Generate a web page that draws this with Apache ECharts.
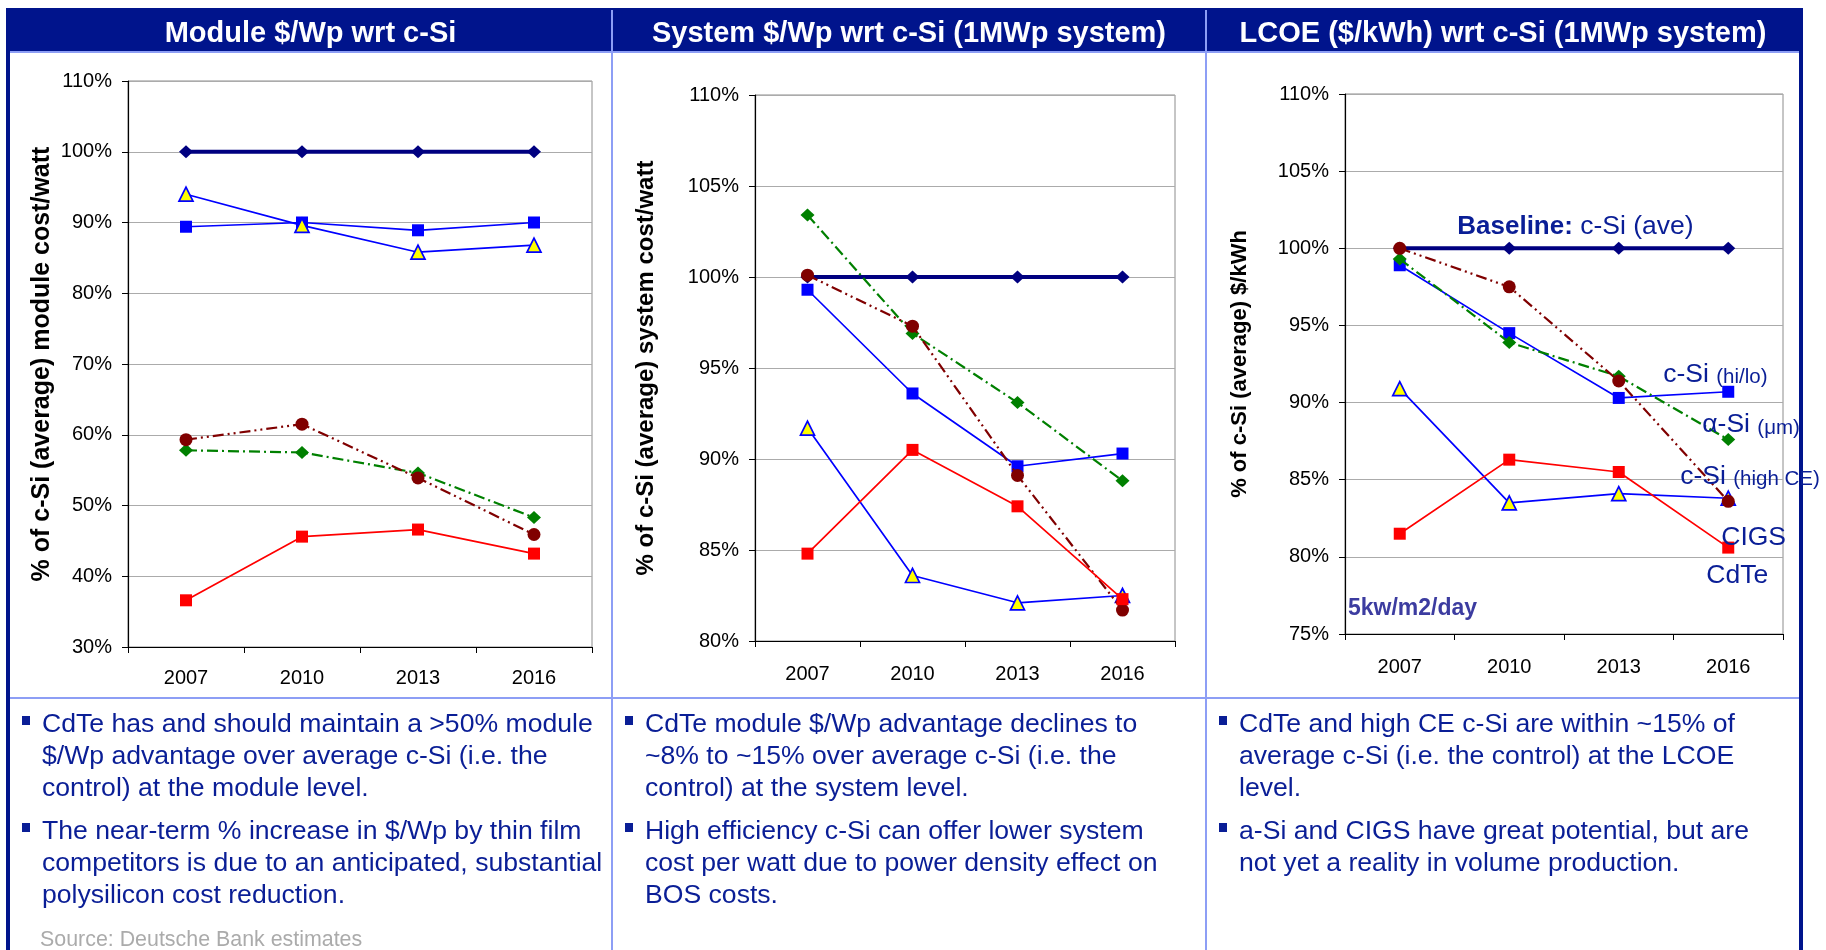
<!DOCTYPE html>
<html>
<head>
<meta charset="utf-8">
<script src="https://cdn.jsdelivr.net/npm/echarts@6/dist/echarts.min.js"></script>
<style>
  html, body { margin: 0; padding: 0; background: #ffffff; }
  #chart { width: 1826px; height: 950px; }
</style>
</head>
<body>
<div id="chart"></div>
<script>
// ---- data -------------------------------------------------------------
const years = ['2007', '2010', '2013', '2016'];

// Module $/Wp relative to average c-Si (%)
const moduleBaseline = [100, 100, 100, 100];
const moduleHiLo     = [89.4, 90.0, 88.9, 90.0];
const moduleASi      = [57.8, 57.5, 54.6, 48.3];
const moduleCIGS     = [94.0, 89.6, 85.8, 86.8];
const moduleHighCE   = [59.3, 61.5, 53.9, 45.9];
const moduleCdTe     = [36.6, 45.6, 46.6, 43.2];

// System $/Wp relative to average c-Si (%), 1MWp system
const systemBaseline = [100, 100, 100, 100];
const systemHiLo     = [99.3, 93.6, 89.6, 90.3];
const systemASi      = [103.4, 96.9, 93.1, 88.8];
const systemCIGS     = [91.7, 83.6, 82.1, 82.5];
const systemHighCE   = [100.1, 97.3, 89.1, 81.7];
const systemCdTe     = [84.8, 90.5, 87.4, 82.3];

// LCOE ($/kWh) relative to average c-Si (%), 1MWp system
const lcoeBaseline = [100, 100, 100, 100];
const lcoeHiLo     = [98.9, 94.5, 90.3, 90.7];
const lcoeASi      = [99.3, 93.9, 91.7, 87.6];
const lcoeCIGS     = [90.9, 83.5, 84.1, 83.8];
const lcoeHighCE   = [100.0, 97.5, 91.4, 83.6];
const lcoeCdTe     = [81.5, 86.3, 85.5, 80.6];

const panelTitles = [
  'Module $/Wp wrt c-Si',
  'System $/Wp wrt c-Si (1MWp system)',
  'LCOE ($/kWh) wrt c-Si (1MWp system)'
];
const axisTitles = [
  '% of c-Si (average) module cost/watt',
  '% of c-Si (average) system cost/watt',
  '% of c-Si (average) $/kWh'
];

const bulletsModule = [
  ['CdTe has and should maintain a >50% module', '$/Wp advantage over average c-Si (i.e. the', 'control) at the module level.'],
  ['The near-term % increase in $/Wp by thin film', 'competitors is due to an anticipated, substantial', 'polysilicon cost reduction.']
];
const bulletsSystem = [
  ['CdTe module $/Wp advantage declines to', '~8% to ~15% over average c-Si (i.e. the', 'control) at the system level.'],
  ['High efficiency c-Si can offer lower system', 'cost per watt due to power density effect on', 'BOS costs.']
];
const bulletsLcoe = [
  ['CdTe and high CE c-Si are within ~15% of', 'average c-Si (i.e. the control) at the LCOE', 'level.'],
  ['a-Si and CIGS have great potential, but are', 'not yet a reality in volume production.']
];
const sourceNote = 'Source: Deutsche Bank estimates';
const irradianceNote = '5kw/m2/day';

// ---- styling ------------------------------------------------------------
const FONT = "'Liberation Sans', Arial, Helvetica, sans-serif";
const NAVY = '#00148c';
const PALE = '#8d9ef5';
const TEXT_BLUE = '#0a1e96';

// one entry per technology, drawn in this order (later ones on top)
const techStyles = [
  { key: 'base',   name: 'c-Si (ave)',     color: '#000080', width: 4,   type: 'solid',             symbol: 'diamond',  size: [14, 13] },
  { key: 'hilo',   name: 'c-Si (hi/lo)',   color: '#0000ff', width: 1.7, type: 'solid',             symbol: 'rect',     size: 12 },
  { key: 'asi',    name: 'α-Si (μm)',      color: '#008000', width: 2.2, type: [11, 4, 2, 4],       symbol: 'diamond',  size: [14, 13] },
  { key: 'cigs',   name: 'CIGS',           color: '#0000ff', width: 1.7, type: 'solid',             symbol: 'triangle', size: 14, fill: '#ffff00', border: 1.7 },
  { key: 'highce', name: 'c-Si (high CE)', color: '#800000', width: 2.2, type: [11, 4, 2, 4, 2, 4], symbol: 'circle',   size: 13 },
  { key: 'cdte',   name: 'CdTe',           color: '#ff0000', width: 1.7, type: 'solid',             symbol: 'rect',     size: 12 }
];

const panelData = [
  { base: moduleBaseline, hilo: moduleHiLo, asi: moduleASi, cigs: moduleCIGS, highce: moduleHighCE, cdte: moduleCdTe },
  { base: systemBaseline, hilo: systemHiLo, asi: systemASi, cigs: systemCIGS, highce: systemHighCE, cdte: systemCdTe },
  { base: lcoeBaseline,   hilo: lcoeHiLo,   asi: lcoeASi,   cigs: lcoeCIGS,   highce: lcoeHighCE,   cdte: lcoeCdTe }
];

const grids = [
  { left: 128,  top: 81, width: 464, height: 566 },
  { left: 755,  top: 95, width: 420, height: 546 },
  { left: 1345, top: 94, width: 438, height: 540 }
];
const yRanges = [
  { min: 30, max: 110, interval: 10, nameGap: 73, nameSize: 25, labelMargin: 21 },
  { min: 80, max: 110, interval: 5,  nameGap: 97, nameSize: 24, labelMargin: 23 },
  { min: 75, max: 110, interval: 5,  nameGap: 94, nameSize: 22, labelMargin: 23 }
];

const xAxes = grids.map((g, i) => ({
  type: 'category',
  gridIndex: i,
  data: years,
  boundaryGap: true,
  axisLine: { show: true, lineStyle: { color: '#000', width: 1.2 } },
  axisTick: { show: true, length: 6, lineStyle: { color: '#000', width: 1 } },
  axisLabel: { fontFamily: FONT, fontSize: 20, color: '#000', margin: yRanges[i].labelMargin },
  splitLine: { show: false }
}));

const yAxes = grids.map((g, i) => ({
  type: 'value',
  gridIndex: i,
  min: yRanges[i].min,
  max: yRanges[i].max,
  interval: yRanges[i].interval,
  name: axisTitles[i],
  nameLocation: 'middle',
  nameGap: yRanges[i].nameGap,
  nameTextStyle: { fontFamily: FONT, fontSize: yRanges[i].nameSize, fontWeight: 'bold', color: '#000' },
  axisLine: { show: true, lineStyle: { color: '#000', width: 1.2 } },
  axisTick: { show: true, length: 6, lineStyle: { color: '#000', width: 1 } },
  axisLabel: { fontFamily: FONT, fontSize: 20, color: '#000', margin: 16, formatter: '{value}%' },
  splitLine: { show: true, lineStyle: { color: '#ababab', width: 1 } }
}));

const series = [];
panelData.forEach((pd, i) => {
  techStyles.forEach((st, k) => {
    series.push({
      type: 'line',
      name: st.name,
      id: 'p' + i + '-' + st.key,
      xAxisIndex: i,
      yAxisIndex: i,
      data: pd[st.key],
      z: 2 + k,
      symbol: st.symbol,
      symbolSize: st.size,
      showSymbol: true,
      lineStyle: { color: st.color, width: st.width, type: st.type },
      itemStyle: st.fill
        ? { color: st.fill, borderColor: st.color, borderWidth: st.border }
        : { color: st.color, borderWidth: 0 },
      emphasis: { disabled: true },
      animation: false
    });
  });
});

const chart = echarts.init(document.getElementById('chart'), null, { renderer: 'canvas' });
chart.setOption({
  animation: false,
  grid: grids.map(g => Object.assign({ show: true, borderColor: '#8c8c8c', borderWidth: 1, backgroundColor: 'transparent' }, g)),
  xAxis: xAxes,
  yAxis: yAxes,
  series: series
});

// ---- frame, headers, notes and commentary ------------------------------
const panelBounds = [[10, 611], [613, 1205], [1207, 1799]];
const graphics = [];

// header bar and frame
graphics.push({ type: 'rect', shape: { x: 6, y: 8, width: 1797, height: 43 }, style: { fill: NAVY }, z: 0 });
graphics.push({ type: 'rect', shape: { x: 6, y: 8, width: 4, height: 942 }, style: { fill: NAVY }, z: 0 });
graphics.push({ type: 'rect', shape: { x: 1799, y: 8, width: 4, height: 942 }, style: { fill: NAVY }, z: 0 });
graphics.push({ type: 'rect', shape: { x: 10, y: 51, width: 1789, height: 2 }, style: { fill: PALE }, z: 1 });
graphics.push({ type: 'rect', shape: { x: 10, y: 697, width: 1789, height: 2 }, style: { fill: PALE }, z: 1 });
graphics.push({ type: 'rect', shape: { x: 611, y: 10, width: 2, height: 940 }, style: { fill: PALE }, z: 1 });
graphics.push({ type: 'rect', shape: { x: 1205, y: 10, width: 2, height: 940 }, style: { fill: PALE }, z: 1 });

panelTitles.forEach((t, i) => {
  const cx = (panelBounds[i][0] + panelBounds[i][1]) / 2;
  graphics.push({
    type: 'text', x: cx, y: 34, z: 2,
    style: { text: t, fill: '#ffffff', font: 'bold 29px ' + FONT, align: 'center', verticalAlign: 'middle' }
  });
});

// bullet commentary
const bulletSets = [bulletsModule, bulletsSystem, bulletsLcoe];
const textLeft = [42, 645, 1239];
const lineCentres = [[725, 756.5, 789], [832, 863.5, 896]];
bulletSets.forEach((set, i) => {
  set.forEach((lines, b) => {
    graphics.push({
      type: 'rect', z: 2,
      shape: { x: textLeft[i] - 20, y: lineCentres[b][0] - 9, width: 8, height: 9 },
      style: { fill: TEXT_BLUE }
    });
    lines.forEach((ln, l) => {
      graphics.push({
        type: 'text', x: textLeft[i], y: lineCentres[b][l], z: 2,
        style: { text: ln, fill: TEXT_BLUE, font: '26.6px ' + FONT, align: 'left', verticalAlign: 'middle' }
      });
    });
  });
});
graphics.push({
  type: 'text', x: 40, y: 940.5, z: 2,
  style: { text: sourceNote, fill: '#ababab', font: '21.4px ' + FONT, align: 'left', verticalAlign: 'middle' }
});

// series names written beside the LCOE lines, anchored on the data points
const px = (catIdx, yv) => chart.convertToPixel({ gridIndex: 2 }, [years[catIdx], yv]);
const lastIdx = years.length - 1;
const tag = (pt, dx, dy, rich, text) => ({
  type: 'text', x: pt[0] + dx, y: pt[1] + dy, z: 10,
  style: { text: text, rich: rich, fill: TEXT_BLUE, font: '26px ' + FONT, align: 'left', verticalAlign: 'middle' }
});
const richParen = {
  m: { fontFamily: FONT, fontSize: 26.5, fill: TEXT_BLUE, verticalAlign: 'bottom', lineHeight: 30 },
  s: { fontFamily: FONT, fontSize: 20.5, fill: TEXT_BLUE, verticalAlign: 'bottom', lineHeight: 30 },
  b: { fontFamily: FONT, fontSize: 26, fontWeight: 'bold', fill: TEXT_BLUE, verticalAlign: 'bottom', lineHeight: 30 }
};
graphics.push(tag(px(1, lcoeBaseline[1]), -52, -23, richParen, '{b|Baseline:}{m| c-Si (ave)}'));
graphics.push(tag(px(lastIdx, lcoeHiLo[lastIdx]), -65, -19, richParen, '{m|c-Si }{s|(hi/lo)}'));
graphics.push(tag(px(lastIdx, lcoeASi[lastIdx]), -26, -16, richParen, '{m|α-Si }{s|(μm)}'));
graphics.push(tag(px(lastIdx, lcoeHighCE[lastIdx]), -48, -26, richParen, '{m|c-Si }{s|(high CE)}'));
graphics.push(tag(px(lastIdx, lcoeCIGS[lastIdx]), -7, 38, richParen, '{m|CIGS}'));
graphics.push(tag(px(lastIdx, lcoeCdTe[lastIdx]), -22, 27, richParen, '{m|CdTe}'));

graphics.push({
  type: 'text', x: grids[2].left + 3, y: 609, z: 10,
  style: { text: irradianceNote, fill: '#3c3ca0', font: 'bold 23px ' + FONT, align: 'left', verticalAlign: 'middle' }
});

chart.setOption({ graphic: { elements: graphics } });
</script>
</body>
</html>
